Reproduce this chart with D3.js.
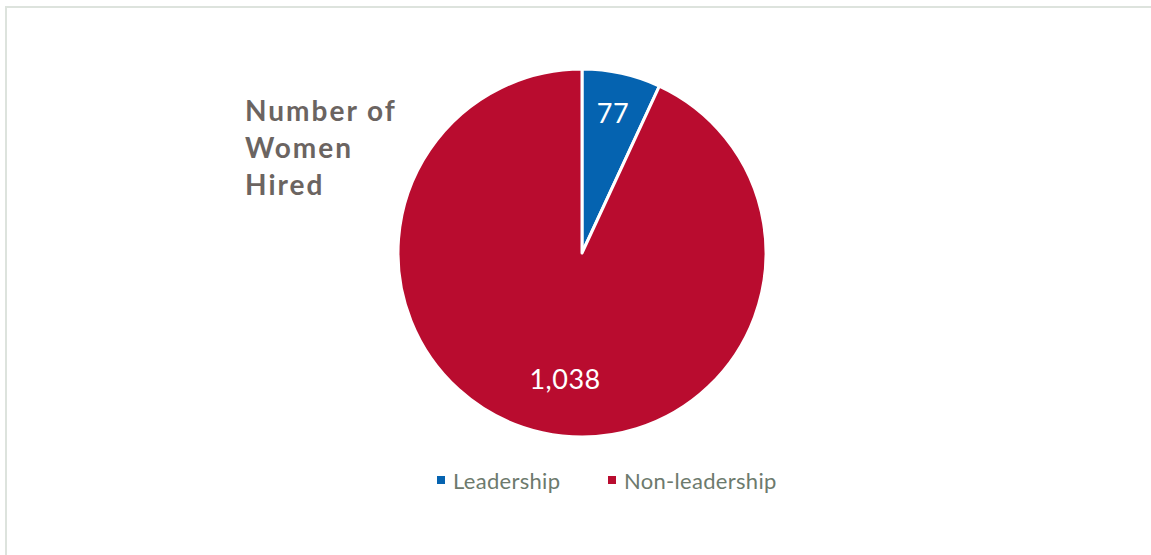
<!DOCTYPE html>
<html>
<head>
<meta charset="utf-8">
<script src="https://cdn.jsdelivr.net/npm/d3@7"></script>
<style>
  html, body { margin: 0; padding: 0; background: #fff; }
  svg { display: block; }
</style>
</head>
<body>
<svg id="chart" width="1151" height="555"></svg>
<script>
// Hiring breakdown
const categories = ["Leadership", "Non-leadership"];
const values = [77, 1038];
const valueLabels = ["77", "1,038"];
const titleLines = ["Number of", "Women", "Hired"];
const colors = ["#0563b0", "#b90c2f"];

const svg = d3.select("#chart");
const W = 1151, H = 555;

// light frame along top and left
svg.append("path")
  .attr("d", `M6,${H} L6,7 L${W},7`)
  .attr("fill", "none")
  .attr("stroke", "#dde3dd")
  .attr("stroke-width", 2);

const cx = 582, cy = 253, r = 184;
const data = categories.map((c, i) => ({ cat: c, value: values[i], label: valueLabels[i] }));

const pie = d3.pie().value(d => d.value).sort(null);
const arc = d3.arc().innerRadius(0).outerRadius(r);
const color = d3.scaleOrdinal().domain(categories).range(colors);

const g = svg.append("g").attr("transform", `translate(${cx},${cy})`);
const arcs = pie(data);

g.selectAll("path.slice")
  .data(arcs)
  .join("path")
  .attr("class", "slice")
  .attr("d", arc)
  .attr("fill", d => color(d.data.cat))
  .attr("stroke", "#fff")
  .attr("stroke-width", 3)
  .attr("stroke-linejoin", "round");

// value labels inside slices
const labelArc = [
  d3.arc().innerRadius(r * 0.78).outerRadius(r * 0.78),
  d3.arc().innerRadius(r * 0.68).outerRadius(r * 0.68)
];
const labelShift = [0, 10];
g.selectAll("text.val")
  .data(arcs)
  .join("text")
  .attr("class", "val")
  .attr("transform", (d, i) => {
    const [x, y] = labelArc[i].centroid(d);
    return `translate(${x + labelShift[i]},${y + (i ? 3 : 0)})`;
  })
  .attr("text-anchor", "middle")
  .attr("dominant-baseline", "central")
  .attr("fill", "#fff")
  .attr("font-family", "Lato, 'Open Sans', sans-serif")
  .attr("font-size", 27)
  .attr("letter-spacing", 0.5)
  .text(d => d.data.label);

// title
svg.append("text")
  .attr("font-family", "Lato, 'Open Sans', sans-serif")
  .attr("font-weight", "bold")
  .attr("font-size", 28)
  .attr("letter-spacing", 2)
  .attr("fill", "#6b6461")
  .selectAll("tspan")
  .data(titleLines)
  .join("tspan")
  .attr("x", 245)
  .attr("y", (d, i) => 121 + i * 37)
  .text(d => d);

// legend
const legendX = [437, 608];
const legend = svg.append("g");
const items = legend.selectAll("g")
  .data(categories)
  .join("g")
  .attr("transform", (d, i) => `translate(${legendX[i]},480)`);
items.append("rect")
  .attr("x", 0).attr("y", -4)
  .attr("width", 8).attr("height", 8)
  .attr("fill", d => color(d));
items.append("text")
  .attr("x", 16)
  .attr("y", 0)
  .attr("dominant-baseline", "central")
  .attr("font-family", "Lato, 'Open Sans', sans-serif")
  .attr("font-size", 22)
  .attr("letter-spacing", 0.3)
  .attr("fill", "#6d7a6d")
  .text(d => d);
</script>
</body>
</html>
